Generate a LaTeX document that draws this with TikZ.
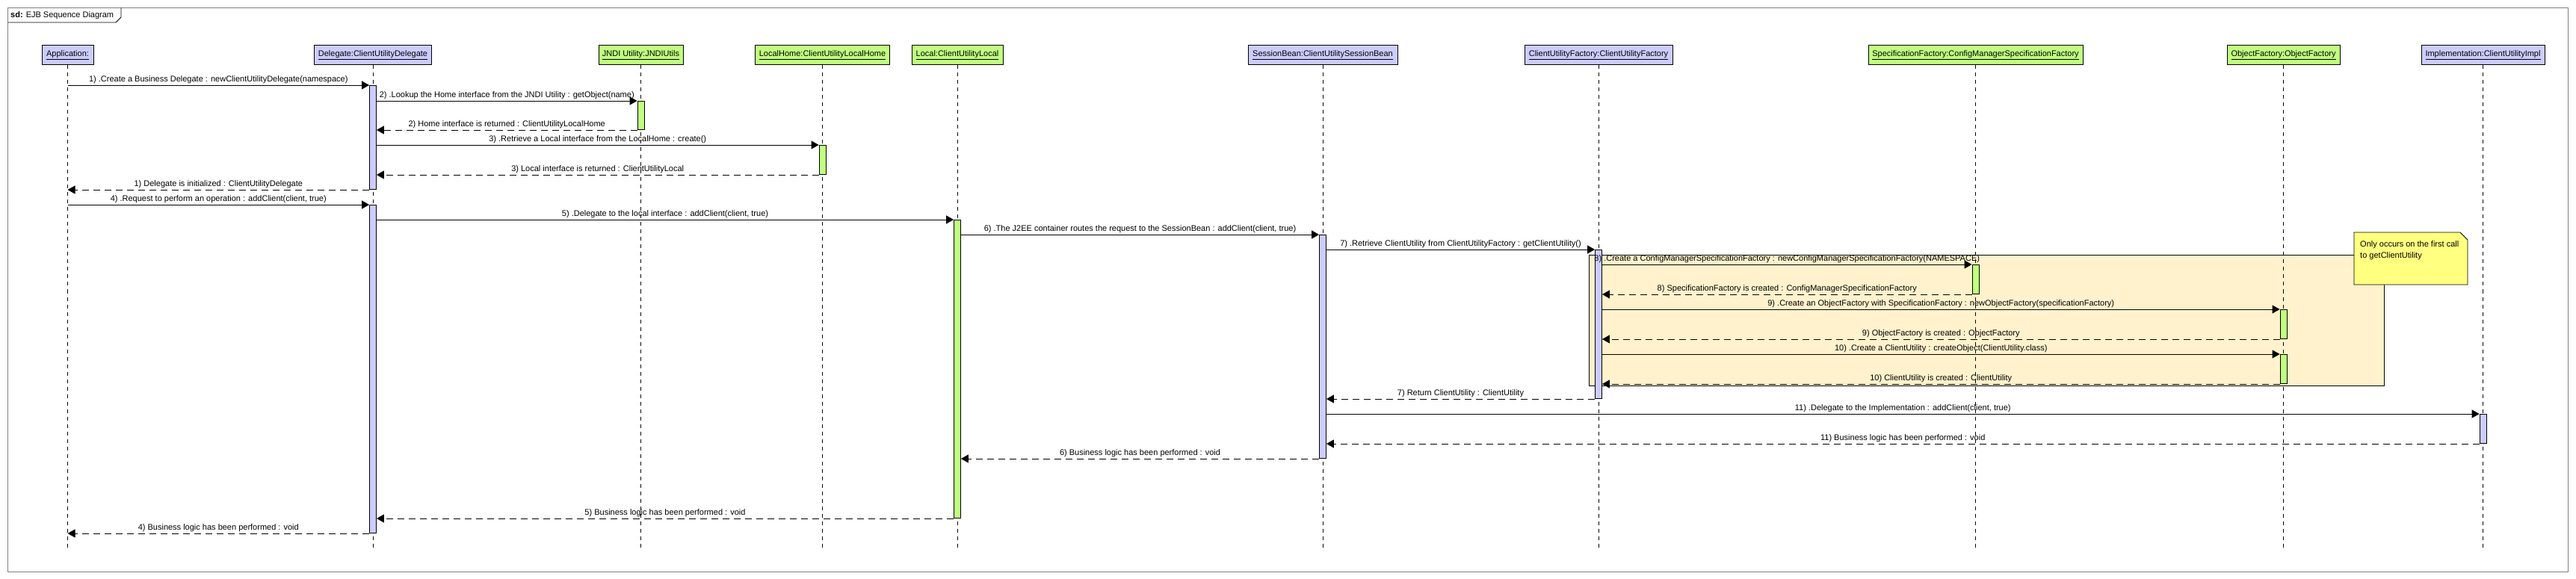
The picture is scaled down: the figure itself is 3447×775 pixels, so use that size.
\documentclass[tikz,border=0pt]{standalone}
\usepackage{fontspec}
\setmainfont{Liberation Sans}
\usetikzlibrary{arrows.meta}

\definecolor{lilac}{RGB}{204,204,255}
\definecolor{lime}{RGB}{192,255,128}
\definecolor{fragtan}{RGB}{255,242,204}
\definecolor{notey}{RGB}{255,255,128}

\tikzset{
  headbox/.style={draw=black, line width=1pt, minimum height=26pt, inner xsep=4pt, font=\fontsize{11}{13}\selectfont},
  life/.style={line width=0.8pt, dash pattern=on 5pt off 5pt},
  actbar/.style={draw=black, line width=0.8pt, minimum width=9pt, inner sep=0pt, anchor=north},
  call/.style={line width=0.9pt, -{Triangle[length=10pt,width=11pt]}},
  back/.style={line width=0.9pt, dash pattern=on 9pt off 6pt, -{Triangle[length=10pt,width=11pt]}},
  msg/.style={above, inner sep=1.5pt, font=\fontsize{11}{13}\selectfont},
}

\begin{document}
\begin{tikzpicture}[x=1pt,y=-1pt]
  \useasboundingbox (0,0) rectangle (3447,775);
  \draw[color=black!50, line width=1pt] (10.5,10.5) rectangle (3436.5,765);
  \draw[line width=0.8pt] (10.5,30) -- (155,30) -- (162,23) -- (162,10.5);
  \node[anchor=west, inner sep=0pt, font=\fontsize{11}{13}\selectfont] (title) at (14,21) {\textbf{sd:} EJB Sequence Diagram};

  % message rows
  \coordinate (s1) at (0,114);
  \coordinate (s2) at (0,135);
  \coordinate (s3) at (0,174);
  \coordinate (s4) at (0,194);
  \coordinate (s5) at (0,234);
  \coordinate (s6) at (0,254);
  \coordinate (s7) at (0,274);
  \coordinate (s8) at (0,294);
  \coordinate (s9) at (0,314);
  \coordinate (s10) at (0,334);
  \coordinate (s11) at (0,354);
  \coordinate (s12) at (0,394);
  \coordinate (s13) at (0,414);
  \coordinate (s14) at (0,454);
  \coordinate (s15) at (0,474);
  \coordinate (s16) at (0,514);
  \coordinate (s17) at (0,534);
  \coordinate (s18) at (0,554);
  \coordinate (s19) at (0,594);
  \coordinate (s20) at (0,614);
  \coordinate (s21) at (0,694);
  \coordinate (s22) at (0,714);
  \coordinate (send) at (0,734);

  \draw[fill=fragtan, line width=0.9pt] (2126,341) rectangle (3190.5,516);

  \node[headbox, fill=lilac, minimum width=69pt] (app) at (90.5,74) {\underline{Application:}};
  \node[headbox, fill=lilac, minimum width=156.5pt] (dlg) at (499,74) {\underline{Delegate:ClientUtilityDelegate}};
  \node[headbox, fill=lime, minimum width=113pt] (jndi) at (857.5,74) {\underline{JNDI Utility:JNDIUtils}};
  \node[headbox, fill=lime, minimum width=180.5pt] (lhome) at (1100.5,74) {\underline{LocalHome:ClientUtilityLocalHome}};
  \node[headbox, fill=lime, minimum width=122pt] (local) at (1281,74) {\underline{Local:ClientUtilityLocal}};
  \node[headbox, fill=lilac, minimum width=200pt] (sbean) at (1770,74) {\underline{SessionBean:ClientUtilitySessionBean}};
  \node[headbox, fill=lilac, minimum width=198pt] (cuf) at (2139,74) {\underline{ClientUtilityFactory:ClientUtilityFactory}};
  \node[headbox, fill=lime, minimum width=287pt] (specf) at (2643.5,74) {\underline{SpecificationFactory:ConfigManagerSpecificationFactory}};
  \node[headbox, fill=lime, minimum width=151pt] (objf) at (3055.5,74) {\underline{ObjectFactory:ObjectFactory}};
  \node[headbox, fill=lilac, minimum width=165pt] (impl) at (3322.5,74) {\underline{Implementation:ClientUtilityImpl}};

  \draw[life] (app.south) -- (app.south |- send);
  \draw[life] (dlg.south) -- (dlg.south |- send);
  \draw[life] (jndi.south) -- (jndi.south |- send);
  \draw[life] (lhome.south) -- (lhome.south |- send);
  \draw[life] (local.south) -- (local.south |- send);
  \draw[life] (sbean.south) -- (sbean.south |- send);
  \draw[life] (cuf.south) -- (cuf.south |- send);
  \draw[life] (specf.south) -- (specf.south |- send);
  \draw[life] (objf.south) -- (objf.south |- send);
  \draw[life] (impl.south) -- (impl.south |- send);

  \draw[fill=notey, line width=0.9pt] (3150,311) -- (3292,311) -- (3302,321) -- (3302,381) -- (3150,381) -- cycle;
  \node[anchor=north west, align=left, inner sep=0pt, font=\fontsize{11}{15}\selectfont] (note) at (3158,322) {Only occurs on the first call\\to getClientUtility};

  \node[actbar, fill=lilac, minimum height=139pt] (dlgA) at (499,114) {};
  \node[actbar, fill=lilac, minimum height=439pt] (dlgB) at (499,274) {};
  \node[actbar, fill=lime, minimum height=38pt] (jndiA) at (857.5,135) {};
  \node[actbar, fill=lime, minimum height=39pt] (lhomeA) at (1100.5,194) {};
  \node[actbar, fill=lime, minimum height=399pt] (localA) at (1281,294) {};
  \node[actbar, fill=lilac, minimum height=299pt] (sbeanA) at (1770,314) {};
  \node[actbar, fill=lilac, minimum height=199pt] (cufA) at (2139,334) {};
  \node[actbar, fill=lime, minimum height=39pt] (specfA) at (2643.5,354) {};
  \node[actbar, fill=lime, minimum height=39pt] (objfA) at (3055.5,414) {};
  \node[actbar, fill=lime, minimum height=39pt] (objfB) at (3055.5,474) {};
  \node[actbar, fill=lilac, minimum height=39pt] (implA) at (3322.5,554) {};

  \draw[call] (app |- s1) -- node[msg] (l1) {1) .Create a Business Delegate : newClientUtilityDelegate(namespace)} (dlgA.west |- s1);
  \draw[call] (dlgA.east |- s2) -- node[msg] (l2) {2) .Lookup the Home interface from the JNDI Utility : getObject(name)} (jndiA.west |- s2);
  \draw[back] (jndiA.west |- s3) -- node[msg] (l3) {2) Home interface is returned : ClientUtilityLocalHome} (dlgA.east |- s3);
  \draw[call] (dlgA.east |- s4) -- node[msg] (l4) {3) .Retrieve a Local interface from the LocalHome : create()} (lhomeA.west |- s4);
  \draw[back] (lhomeA.west |- s5) -- node[msg] (l5) {3) Local interface is returned : ClientUtilityLocal} (dlgA.east |- s5);
  \draw[back] (dlgA.west |- s6) -- node[msg] (l6) {1) Delegate is initialized : ClientUtilityDelegate} (app |- s6);
  \draw[call] (app |- s7) -- node[msg] (l7) {4) .Request to perform an operation : addClient(client, true)} (dlgB.west |- s7);
  \draw[call] (dlgB.east |- s8) -- node[msg] (l8) {5) .Delegate to the local interface : addClient(client, true)} (localA.west |- s8);
  \draw[call] (localA.east |- s9) -- node[msg] (l9) {6) .The J2EE container routes the request to the SessionBean : addClient(client, true)} (sbeanA.west |- s9);
  \draw[call] (sbeanA.east |- s10) -- node[msg] (l10) {7) .Retrieve ClientUtility from ClientUtilityFactory : getClientUtility()} (cufA.west |- s10);
  \draw[call] (cufA.east |- s11) -- node[msg] (l11) {8) .Create a ConfigManagerSpecificationFactory : newConfigManagerSpecificationFactory(NAMESPACE)} (specfA.west |- s11);
  \draw[back] (specfA.west |- s12) -- node[msg] (l12) {8) SpecificationFactory is created : ConfigManagerSpecificationFactory} (cufA.east |- s12);
  \draw[call] (cufA.east |- s13) -- node[msg] (l13) {9) .Create an ObjectFactory with SpecificationFactory : newObjectFactory(specificationFactory)} (objfA.west |- s13);
  \draw[back] (objfA.west |- s14) -- node[msg] (l14) {9) ObjectFactory is created : ObjectFactory} (cufA.east |- s14);
  \draw[call] (cufA.east |- s15) -- node[msg] (l15) {10) .Create a ClientUtility : createObject(ClientUtility.class)} (objfB.west |- s15);
  \draw[back] (objfB.west |- s16) -- node[msg] (l16) {10) ClientUtility is created : ClientUtility} (cufA.east |- s16);
  \draw[back] (cufA.west |- s17) -- node[msg] (l17) {7) Return ClientUtility : ClientUtility} (sbeanA.east |- s17);
  \draw[call] (sbeanA.east |- s18) -- node[msg] (l18) {11) .Delegate to the Implementation : addClient(client, true)} (implA.west |- s18);
  \draw[back] (implA.west |- s19) -- node[msg] (l19) {11) Business logic has been performed : void} (sbeanA.east |- s19);
  \draw[back] (sbeanA.west |- s20) -- node[msg] (l20) {6) Business logic has been performed : void} (localA.east |- s20);
  \draw[back] (localA.west |- s21) -- node[msg] (l21) {5) Business logic has been performed : void} (dlgB.east |- s21);
  \draw[back] (dlgB.west |- s22) -- node[msg] (l22) {4) Business logic has been performed : void} (app |- s22);
\end{tikzpicture}
\end{document}
